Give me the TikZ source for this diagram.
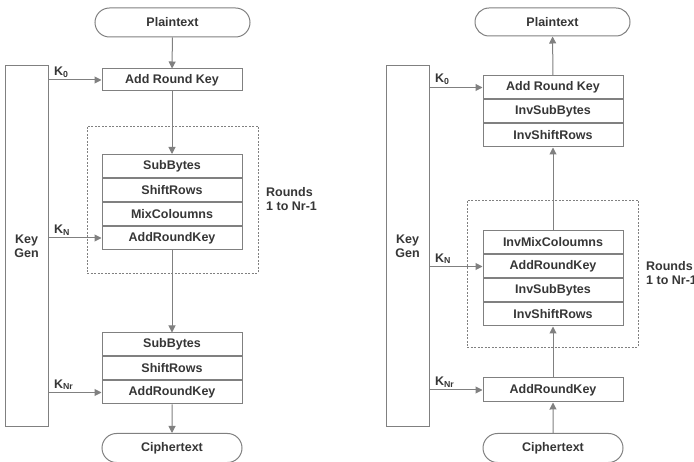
\documentclass[tikz,border=0pt]{standalone}
\usepackage{fontspec}
\setmainfont{Liberation Sans}
\usepackage{xcolor}
\usetikzlibrary{positioning,arrows.meta,shapes.misc}
\definecolor{linegray}{HTML}{808080}
\definecolor{inkgray}{HTML}{363636}

\begin{document}
\begin{tikzpicture}[x=1pt,y=-1pt,
  font=\fontsize{12.5}{14}\selectfont\bfseries,text=inkgray,line width=1pt,
  stage/.style={draw=linegray,minimum width=140pt,minimum height=23pt,inner sep=0pt},
  pill/.style={stage,rounded rectangle,minimum height=29pt},
  keygen/.style={draw=linegray,minimum width=43pt,minimum height=361pt,align=center},
  roundbox/.style={draw=linegray,line width=0.7pt,dash pattern=on 2pt off 1.5pt,minimum width=171pt,minimum height=147pt},
  flow/.style={draw=linegray,-{Triangle[length=7pt,width=7pt]}},
  klabel/.style={above right,inner sep=2pt,xshift=3pt}]
\useasboundingbox (0,0) rectangle (694,462);

% encryption
\node[roundbox] (roundsL) at (172.5,199.5) {};
\node[right=4pt of roundsL.east,align=left] {Rounds\\1 to Nr-1};
\node[pill,minimum width=155pt] (plainL) at (172.5,22.5) {Plaintext};
\node[keygen] (keyL) at (26.5,246.5) {Key\\Gen};
\node[stage,minimum height=22pt] (ark0L) at (172,80) {Add Round Key};
\node[stage] (subL) at (172,166) {SubBytes};
\node[stage,below=0pt of subL] (shiftL) {ShiftRows};
\node[stage,below=0pt of shiftL] (mixL) {MixColoumns};
\node[stage,below=0pt of mixL] (addL) {AddRoundKey};
\node[stage] (sub2L) at (172,344.5) {SubBytes};
\node[stage,below=0pt of sub2L] (shift2L) {ShiftRows};
\node[stage,below=0pt of shift2L] (add2L) {AddRoundKey};
\node[pill] (cipherL) at (172,448) {Ciphertext};

\draw[flow] (plainL) -- (ark0L);
\draw[flow] (ark0L) -- (subL);
\draw[flow] (addL) -- (sub2L);
\draw[flow] (add2L) -- (cipherL);
\draw[flow] (keyL.east |- ark0L.west) node[klabel] {K\textsubscript{0}} -- (ark0L.west);
\draw[flow] (keyL.east |- addL.west) node[klabel] {K\textsubscript{N}} -- (addL.west);
\draw[flow] (keyL.east |- add2L.west) node[klabel] {K\textsubscript{Nr}} -- (add2L.west);

% decryption
\node[roundbox] (roundsR) at (552.5,273.5) {};
\node[right=4pt of roundsR.east,align=left] {Rounds\\1 to Nr-1};
\node[pill,minimum width=155pt,minimum height=28pt] (plainR) at (552.5,22) {Plaintext};
\node[keygen] (keyR) at (407.5,246.5) {Key\\Gen};
\node[stage] (arkR) at (553,87.5) {Add Round Key};
\node[stage,below=0pt of arkR] (invsubR) {InvSubBytes};
\node[stage,below=0pt of invsubR] (invshiftR) {InvShiftRows};
\node[stage] (invmixR) at (553,242.5) {InvMixColoumns};
\node[stage,below=0pt of invmixR] (addR) {AddRoundKey};
\node[stage,below=0pt of addR] (invsub2R) {InvSubBytes};
\node[stage,below=0pt of invsub2R] (invshift2R) {InvShiftRows};
\node[stage,minimum height=24pt] (ark2R) at (553,390) {AddRoundKey};
\node[pill] (cipherR) at (553,448) {Ciphertext};

\draw[flow] (cipherR) -- (ark2R);
\draw[flow] (ark2R) -- (invshift2R);
\draw[flow] (invmixR) -- (invshiftR);
\draw[flow] (arkR) -- (plainR);
\draw[flow] (keyR.east |- arkR.west) node[klabel] {K\textsubscript{0}} -- (arkR.west);
\draw[flow] (keyR.east |- addR.west) node[klabel] {K\textsubscript{N}} -- (addR.west);
\draw[flow] (keyR.east |- ark2R.west) node[klabel] {K\textsubscript{Nr}} -- (ark2R.west);
\end{tikzpicture}
\end{document}
